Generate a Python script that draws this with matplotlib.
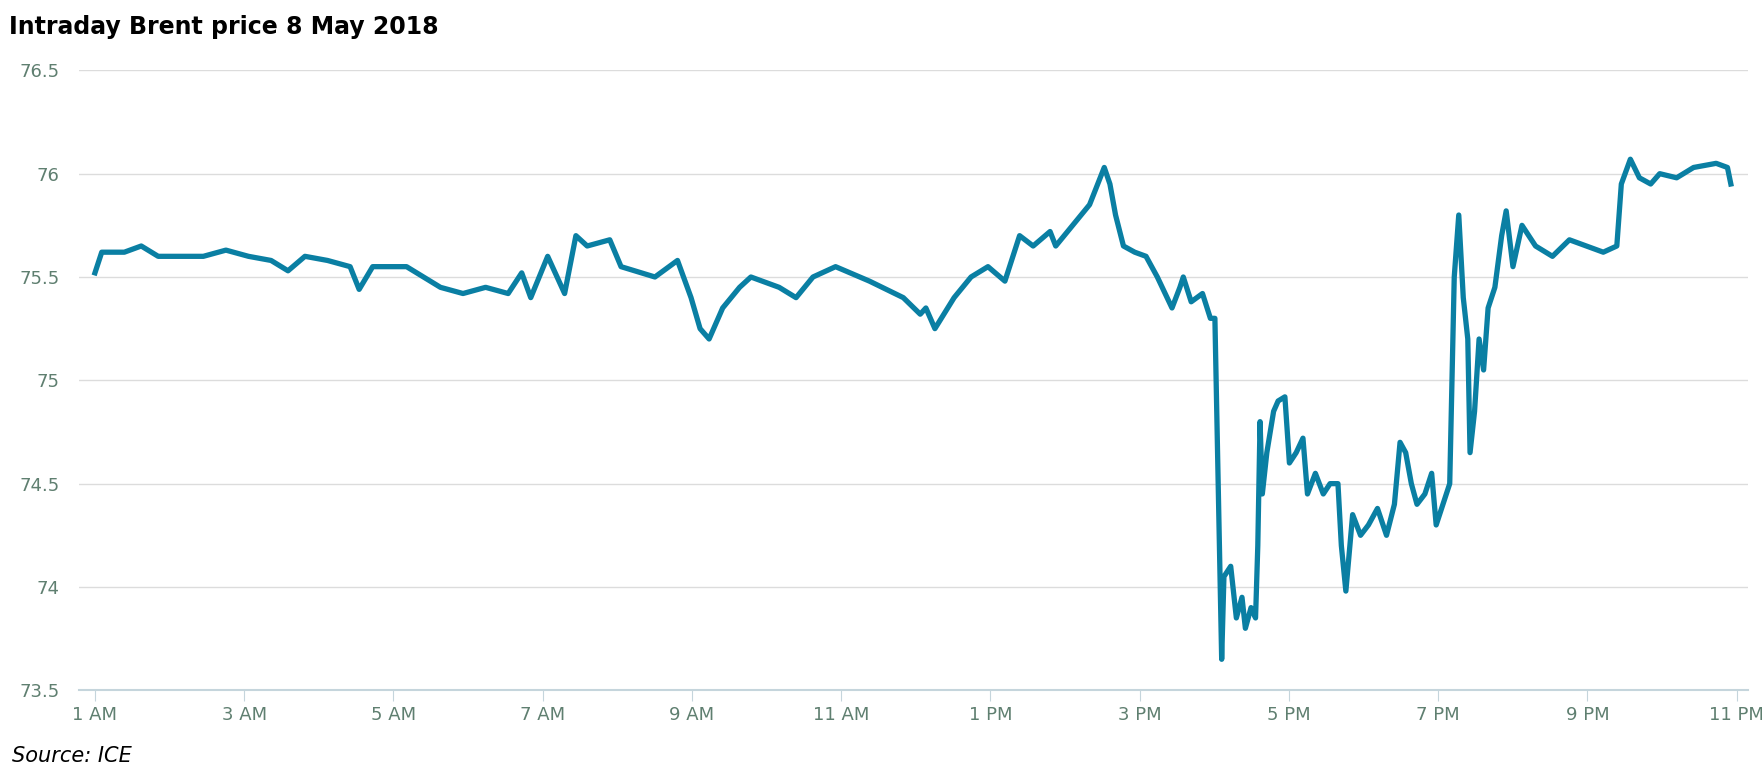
import matplotlib
matplotlib.use("Agg")
import matplotlib.pyplot as plt

px = [84,90,110,125,140,160,180,200,220,240,255,270,290,310,318,330,360,375,390,410,430,450,470,500,
      462,485,510,520,540,550,580,600,612,620,628,640,655,665,690,705,720,740,770,800,815,820,828,845,860,875,
      890,903,915,930,935,950,965,978,983,988,995,1005,1015,1025,1038,1045,1048,1055,1065,1072,1076,1078,1082,
      1084,1090,1095,1100,1103,1108,1112,1114,1116,1118,1122,1128,1132,1138,1142,1148,1154,1158,1165,1172,1178,
      1185,1188,1192,1198,1205,1212,1220,1228,1235,1240,1245,1250,1255,1262,1268,1272,1278,1284,1288,1292,1296,
      1300,1302,1306,1310,1314,1318,1324,1330,1334,1340,1348,1360,1375,1390,1405,1420,1432,1436,1444,1452,1462,
      1470,1485,1500,1520,1530,1533]
price = [75.52,75.62,75.62,75.65,75.6,75.6,75.6,75.63,75.6,75.58,75.53,75.6,75.58,75.55,75.44,75.55,75.55,75.5,75.45,75.42,75.45,75.42,75.4,75.42,
         75.52,75.6,75.7,75.65,75.68,75.55,75.5,75.58,75.4,75.25,75.2,75.35,75.45,75.5,75.45,75.4,75.5,75.55,75.48,75.4,75.32,75.35,75.25,75.4,75.5,75.55,
         75.48,75.7,75.65,75.72,75.65,75.75,75.85,76.03,75.95,75.8,75.65,75.62,75.6,75.5,75.35,75.45,75.5,75.38,75.42,75.3,75.3,74.75,73.65,
         74.05,74.1,73.85,73.95,73.8,73.9,73.85,74.2,74.8,74.45,74.65,74.85,74.9,74.92,74.6,74.65,74.72,74.45,74.55,74.45,74.5,
         74.5,74.2,73.98,74.35,74.25,74.3,74.38,74.25,74.4,74.7,74.65,74.5,74.4,74.45,74.55,74.3,74.4,74.5,75.5,75.8,75.4,
         75.2,74.65,74.85,75.2,75.05,75.35,75.45,75.7,75.82,75.55,75.75,75.65,75.6,75.68,75.65,75.62,75.65,75.95,76.07,75.98,75.95,
         76.0,75.98,76.03,76.05,76.03,75.95]
pairs = sorted(zip(px, price))
hours = [1 + (p - 84) / 66.1 for p, _ in pairs]
prices = [v for _, v in pairs]

xticks = [1, 3, 5, 7, 9, 11, 13, 15, 17, 19, 21, 23]
xlabels = ["1 AM","3 AM","5 AM","7 AM","9 AM","11 AM","1 PM","3 PM","5 PM","7 PM","9 PM","11 PM"]
yticks = [73.5, 74, 74.5, 75, 75.5, 76, 76.5]
ylabels = ["73.5","74","74.5","75","75.5","76","76.5"]

fig = plt.figure(figsize=(17.62, 7.73), dpi=100)
ax = fig.add_axes([0.045, 0.107, 0.947, 0.802])
ax.plot(hours, prices, color="#0a7fa3", lw=3.8, solid_joinstyle="round")
ax.set_xlim(0.79, 23.15)
ax.set_ylim(73.5, 76.5)
ax.set_yticks(yticks)
ax.set_yticklabels(ylabels)
ax.set_xticks(xticks)
ax.set_xticklabels(xlabels)
ax.grid(axis="y", color="#dcdcdc", lw=1)
ax.set_axisbelow(True)
for s in ["top", "right", "left"]:
    ax.spines[s].set_visible(False)
ax.spines["bottom"].set_color("#c5d5dc")
ax.spines["bottom"].set_linewidth(1.5)
ax.tick_params(axis="y", length=0, pad=14, labelcolor="#5f7f70", labelsize=13)
ax.tick_params(axis="x", length=8, color="#c5d5dc", labelcolor="#5f7f70", labelsize=13)
fig.text(0.005, 0.965, "Intraday Brent price 8 May 2018", fontsize=17, fontweight="bold", va="center")
fig.text(0.007, 0.022, "Source: ICE", fontsize=15, style="italic", va="center")
fig.savefig("out.png", dpi=100)
